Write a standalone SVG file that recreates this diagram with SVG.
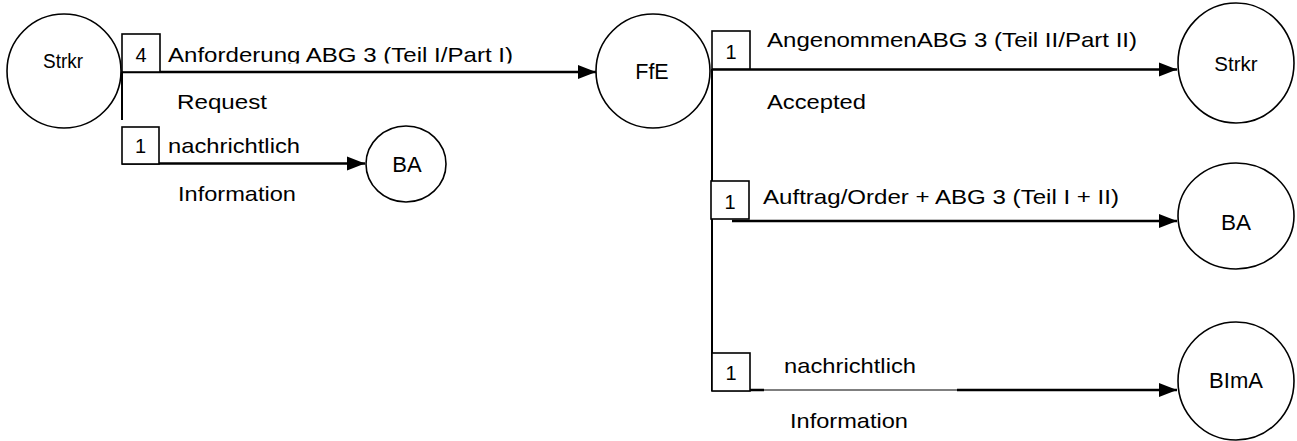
<svg xmlns="http://www.w3.org/2000/svg" width="1297" height="441" viewBox="0 0 1297 441">
<style>
.node{fill:#fff;stroke:#000;stroke-width:1.6}
.box{fill:#fff;stroke:#000;stroke-width:1.6}
.ln{fill:none;stroke:#000;stroke-width:2.6}
.thin{fill:none;stroke:#000;stroke-width:1.2}
.vl{fill:none;stroke:#000;stroke-width:2}
text{font-family:"Liberation Sans",Arial,sans-serif;fill:#000}
.lbl{font-size:21px}
.num{font-size:20px;text-anchor:middle}
.nl{text-anchor:middle}
</style>
<defs>
<marker id="ah" markerUnits="userSpaceOnUse" markerWidth="18" markerHeight="16" refX="18" refY="8" orient="auto">
<path d="M0,1 L18,8 L0,15 Z" fill="#000"/>
</marker>
<clipPath id="clipA"><rect x="160" y="30" width="400" height="33.5"/></clipPath>
</defs>
<g id="connectors">
<line class="vl" x1="122" y1="72" x2="122" y2="120"/>
<line class="ln" x1="122" y1="72" x2="596" y2="72" marker-end="url(#ah)"/>
<line class="ln" x1="122" y1="163.5" x2="365" y2="163.5" marker-end="url(#ah)"/>
<line class="vl" x1="712" y1="69" x2="712" y2="391"/>
<line class="ln" x1="712" y1="69.5" x2="1177" y2="69.5" marker-end="url(#ah)"/>
<line class="ln" x1="732" y1="221" x2="1177" y2="221" marker-end="url(#ah)"/>
<line class="ln" x1="712" y1="390" x2="764" y2="390"/>
<line class="thin" x1="764" y1="390" x2="958" y2="390"/>
<line class="ln" x1="957" y1="390" x2="1177" y2="390" marker-end="url(#ah)"/>
</g>
<g id="n-strkr-left">
<ellipse class="node" cx="64" cy="71" rx="57" ry="57"/>
<text class="nl" x="63" y="68" font-size="19.5" textLength="40" lengthAdjust="spacingAndGlyphs">Strkr</text>
</g>
<g id="n-ffe">
<ellipse class="node" cx="653" cy="71" rx="57" ry="57"/>
<text class="nl" x="652" y="79" font-size="21.5">FfE</text>
</g>
<g id="n-ba-left">
<ellipse class="node" cx="406" cy="164" rx="40" ry="38"/>
<text class="nl" x="407" y="172" font-size="22">BA</text>
</g>
<g id="n-strkr-right">
<ellipse class="node" cx="1236" cy="63" rx="58" ry="60"/>
<text class="nl" x="1236" y="71" font-size="20.5">Strkr</text>
</g>
<g id="n-ba-right">
<ellipse class="node" cx="1236" cy="216" rx="58" ry="53"/>
<text class="nl" x="1236" y="230" font-size="22.5">BA</text>
</g>
<g id="n-bima">
<ellipse class="node" cx="1236" cy="381" rx="58" ry="59"/>
<text class="nl" x="1236" y="388" font-size="22">BImA</text>
</g>
<g id="labels">
<rect class="box" x="122" y="34" width="38" height="38"/>
<text class="num" x="141" y="62">4</text>
<text class="lbl" x="168" y="62" textLength="345" lengthAdjust="spacingAndGlyphs" clip-path="url(#clipA)">Anforderung ABG 3 (Teil I/Part I)</text>
<text class="lbl" x="177" y="109" textLength="90" lengthAdjust="spacingAndGlyphs">Request</text>
<rect class="box" x="122" y="127" width="37" height="37"/>
<text class="num" x="140.5" y="153">1</text>
<text class="lbl" x="168" y="153" textLength="132" lengthAdjust="spacingAndGlyphs">nachrichtlich</text>
<text class="lbl" x="178" y="201" textLength="118" lengthAdjust="spacingAndGlyphs">Information</text>
<rect class="box" x="712" y="31" width="38" height="38"/>
<text class="num" x="731" y="59">1</text>
<text class="lbl" x="767" y="47" textLength="370" lengthAdjust="spacingAndGlyphs">AngenommenABG 3 (Teil II/Part II)</text>
<text class="lbl" x="767" y="109" textLength="99" lengthAdjust="spacingAndGlyphs">Accepted</text>
<rect class="box" x="711" y="181" width="38" height="38"/>
<text class="num" x="730" y="209">1</text>
<text class="lbl" x="763" y="204" textLength="356" lengthAdjust="spacingAndGlyphs">Auftrag/Order + ABG 3 (Teil I + II)</text>
<rect class="box" x="712" y="353" width="38" height="38"/>
<text class="num" x="731" y="380">1</text>
<text class="lbl" x="784" y="373" textLength="132" lengthAdjust="spacingAndGlyphs">nachrichtlich</text>
<text class="lbl" x="790" y="428" textLength="118" lengthAdjust="spacingAndGlyphs">Information</text>
</g>
</svg>
